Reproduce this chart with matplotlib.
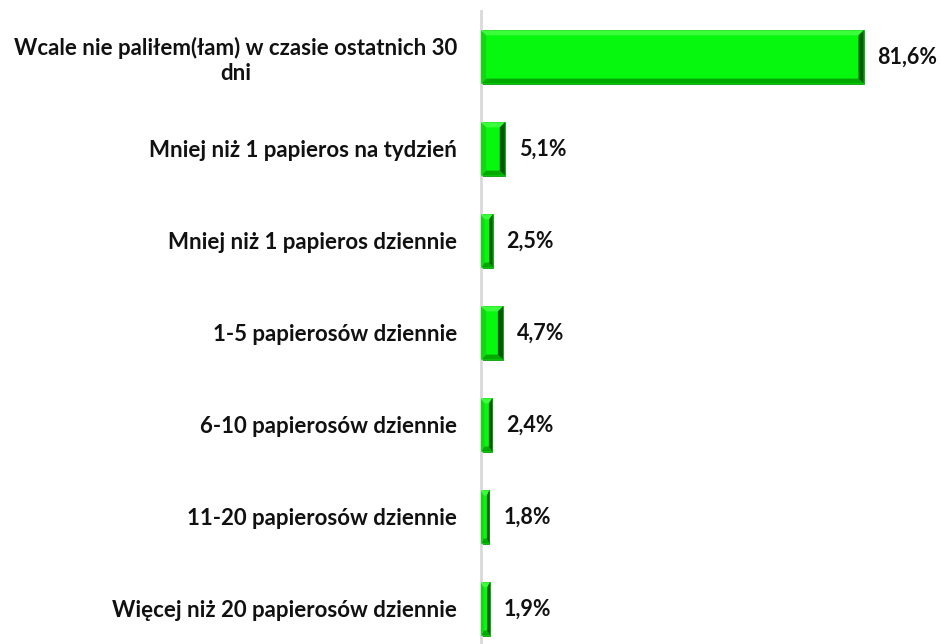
import matplotlib.pyplot as plt
from matplotlib.patches import Polygon

categories = [
    "Wcale nie paliłem(łam) w czasie ostatnich 30\ndni",
    "Mniej niż 1 papieros na tydzień",
    "Mniej niż 1 papieros dziennie",
    "1-5 papierosów dziennie",
    "6-10 papierosów dziennie",
    "11-20 papierosów dziennie",
    "Więcej niż 20 papierosów dziennie",
]
values = [81.6, 5.1, 2.5, 4.7, 2.4, 1.8, 1.9]
value_labels = ["81,6%", "5,1%", "2,5%", "4,7%", "2,4%", "1,8%", "1,9%"]

FACE = "#06f80e"
TOP = "#3cff3c"
BOTTOM = "#00a800"
LEFT = "#12d812"
RIGHT = "#005a00"

plt.rcParams['font.family'] = ['Lato', 'DejaVu Sans']

fig = plt.figure(figsize=(9.42, 6.44), dpi=100)
ax = fig.add_axes([0.5106, -0.017, 0.4894, 1.0])

pos = list(range(len(values)))
bh = 0.58
bars = ax.barh(pos, values, height=bh, color=FACE, edgecolor="#0a9a0a", linewidth=0.6, zorder=2)
ax.set_xlim(0, 98.3)
ax.set_ylim(len(values) - 0.5, -0.5)

# bevel edges, roughly 5 px wide
bx = 1.1   # data units along x
by = 0.055  # data units along y
for b in bars:
    x0, y0 = b.get_x(), b.get_y()
    w, h = b.get_width(), b.get_height()
    x1, y1 = x0 + w, y0 + h
    dx = min(bx, w * 0.3)
    # y0 is the top edge on screen (inverted axis)
    top = [(x0, y0), (x1, y0), (x1 - dx, y0 + by), (x0 + dx, y0 + by)]
    bot = [(x0, y1), (x1, y1), (x1 - dx, y1 - by), (x0 + dx, y1 - by)]
    lft = [(x0, y0), (x0 + dx, y0 + by), (x0 + dx, y1 - by), (x0, y1)]
    rgt = [(x1, y0), (x1 - dx, y0 + by), (x1 - dx, y1 - by), (x1, y1)]
    for pts, c in [(top, TOP), (bot, BOTTOM), (lft, LEFT), (rgt, RIGHT)]:
        ax.add_patch(Polygon(pts, closed=True, facecolor=c, edgecolor="none", zorder=3))

for p, v, lab in zip(pos, values, value_labels):
    ax.annotate(lab, (v, p), xytext=(10, 0), textcoords="offset points",
                ha="left", va="center", fontsize=15.5, fontweight="bold", color="#111111")

ax.set_yticks(pos)
ax.set_yticklabels(categories, fontsize=16, fontweight="bold", color="#111111",
                   multialignment="center")
ax.tick_params(axis="y", length=0, pad=17)
ax.set_xticks([])
for s in ["top", "right", "bottom"]:
    ax.spines[s].set_visible(False)
ax.spines["left"].set_color("#d9d9d9")
ax.spines["left"].set_linewidth(2)

fig.savefig("out.png", dpi=100)
